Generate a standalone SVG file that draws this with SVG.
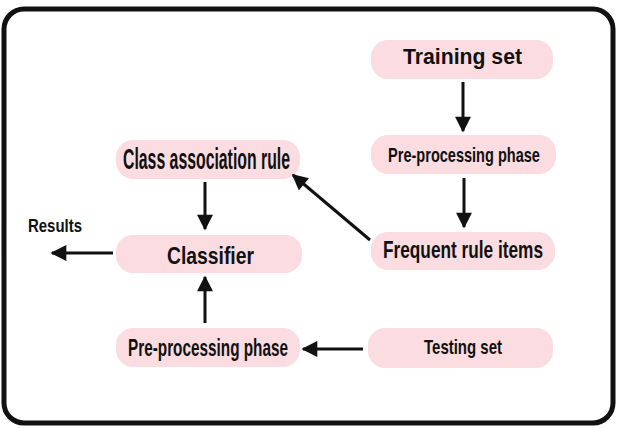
<svg xmlns="http://www.w3.org/2000/svg" width="617" height="428" viewBox="0 0 617 428">
<style>
.n{fill:#fadce1;stroke:none}
.t{font-family:"Liberation Sans",Arial,sans-serif;font-weight:bold;fill:#111;text-anchor:middle}
.c{stroke:#111;stroke-width:3;fill:none;marker-end:url(#ah)}
</style>
<defs>
<marker id="ah" viewBox="0 0 10 10" refX="9" refY="5" markerWidth="5.7" markerHeight="5.3" orient="auto" markerUnits="strokeWidth">
<path d="M0,0 L10,5 L0,10 Z" fill="#111"/>
</marker>
</defs>
<rect x="0" y="0" width="617" height="428" fill="#fff"/>
<rect x="4" y="9" width="609" height="414" rx="20" ry="20" fill="#fff" stroke="#111" stroke-width="5"/>
<g id="training"><rect class="n" x="371" y="40" width="182" height="39" rx="17"/><text class="t" x="462.5" y="64" font-size="22" textLength="119" lengthAdjust="spacingAndGlyphs">Training set</text></g>
<g id="preproc-right"><rect class="n" x="371" y="135" width="185" height="39" rx="17"/><text class="t" transform="translate(464,161.5) scale(0.727,1)" x="0" y="0" font-size="20">Pre-processing phase</text></g>
<g id="frequent"><rect class="n" x="371" y="232" width="184" height="38" rx="17"/><text class="t" x="463" y="257.5" font-size="24.5" textLength="160" lengthAdjust="spacingAndGlyphs">Frequent rule items</text></g>
<g id="classassoc"><rect class="n" x="116" y="140" width="184" height="39" rx="17"/><text class="t" x="206.5" y="169" font-size="29" textLength="167" lengthAdjust="spacingAndGlyphs">Class association rule</text></g>
<g id="classifier"><rect class="n" x="116" y="235" width="186" height="38" rx="17"/><text class="t" x="210.5" y="264" font-size="24.5" textLength="87" lengthAdjust="spacingAndGlyphs">Classifier</text></g>
<g id="preproc-left"><rect class="n" x="116" y="328" width="184" height="39" rx="17"/><text class="t" x="208" y="355.5" font-size="24" textLength="160" lengthAdjust="spacingAndGlyphs">Pre-processing phase</text></g>
<g id="testing"><rect class="n" x="368" y="328" width="185" height="40" rx="17"/><text class="t" x="463" y="353.5" font-size="21" textLength="78" lengthAdjust="spacingAndGlyphs">Testing set</text></g>
<g id="results"><text class="t" x="55" y="231.5" font-size="17.5" textLength="54" lengthAdjust="spacingAndGlyphs">Results</text></g>
<g id="connectors">
<line class="c" x1="463" y1="82" x2="463" y2="131"/>
<line class="c" x1="464" y1="178" x2="464" y2="227"/>
<line class="c" x1="370" y1="240" x2="293" y2="175"/>
<line class="c" x1="205" y1="182" x2="205" y2="229"/>
<line class="c" x1="205" y1="323" x2="205" y2="277"/>
<line class="c" x1="363" y1="349" x2="303" y2="349"/>
<line class="c" x1="113" y1="253" x2="52" y2="253"/>
</g>
</svg>
